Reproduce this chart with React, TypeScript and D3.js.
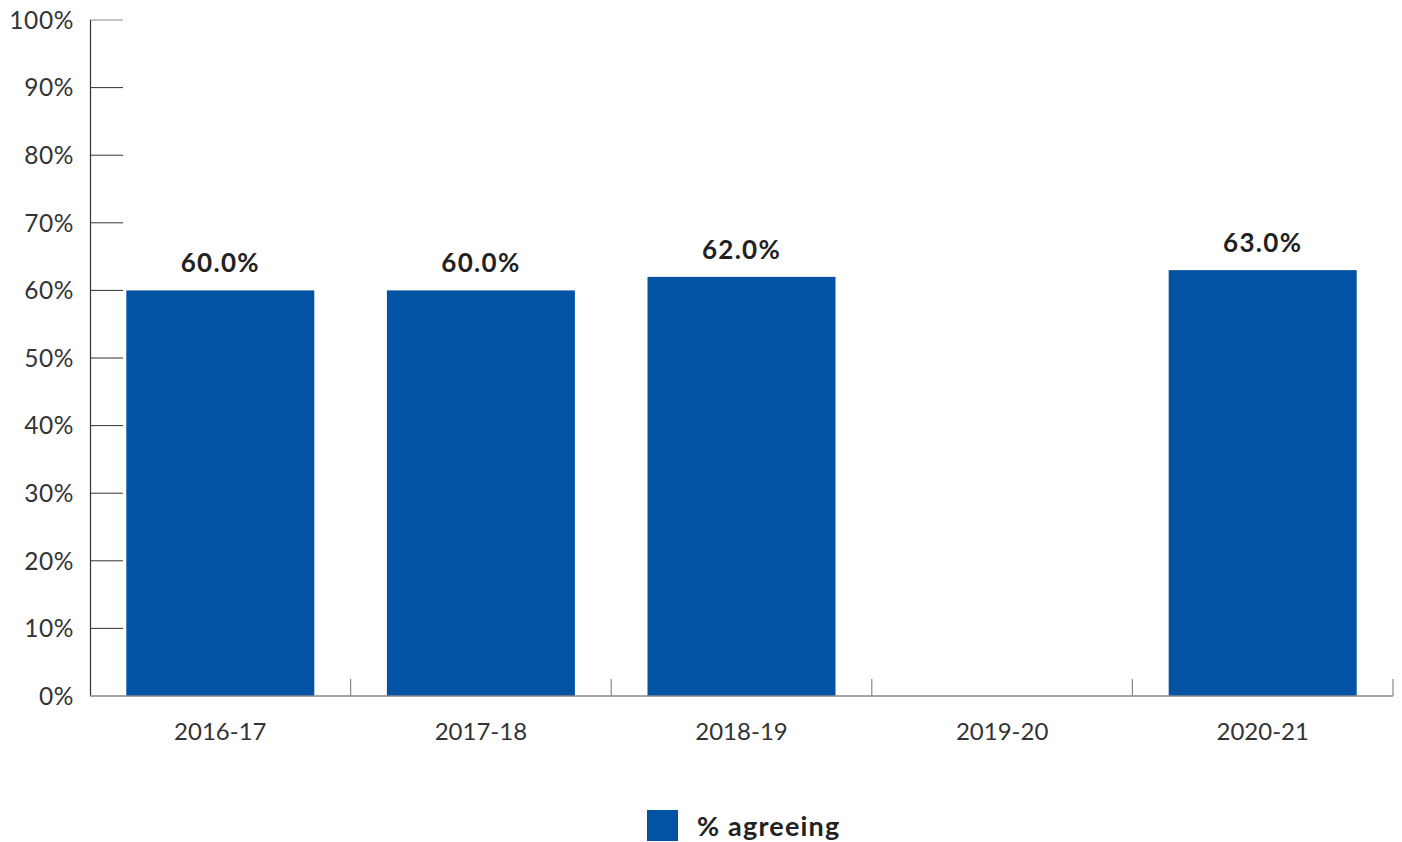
import React from "react";
import * as d3 from "d3";

const categories = ["2016-17", "2017-18", "2018-19", "2019-20", "2020-21"];
const values: (number | null)[] = [60, 60, 62, null, 63];
const yTicks = [0, 10, 20, 30, 40, 50, 60, 70, 80, 90, 100];
const seriesName = "% agreeing";

const W = 1402;
const H = 842;
const FONT = "Lato, 'Open Sans', sans-serif";
const BAR = "#0353a4";

export default function App() {
  const x = d3
    .scaleBand<string>()
    .domain(categories)
    .range([90, 1393])
    .paddingInner(0.2786)
    .paddingOuter(0.1393);
  const y = d3.scaleLinear().domain([0, 100]).range([696, 20]);
  const step = x.step();
  const boundaries = categories.map((_, i) => 90 + step * (i + 1));

  return (
    <div style={{ position: "absolute", left: 0, top: 0 }}>
      <svg width={W} height={H} style={{ display: "block", background: "#fff" }}>
        {/* y ticks */}
        {yTicks.map((t) => (
          <g key={t}>
            {t > 0 && (
              <line
                x1={90}
                x2={123}
                y1={y(t)}
                y2={y(t)}
                stroke={t === 100 ? "#888" : "#333"}
                strokeWidth={1}
              />
            )}
            <text
              x={74}
              y={y(t)}
              dy="0.36em"
              textAnchor="end"
              fontFamily={FONT}
              fontSize={24.5}
              letterSpacing={0.6}
              fill="#333"
            >
              {t}%
            </text>
          </g>
        ))}
        {/* bars */}
        {categories.map((c, i) => {
          const v = values[i];
          if (v == null) return null;
          return (
            <g key={c}>
              <rect
                x={x(c)}
                y={y(v)}
                width={x.bandwidth()}
                height={y(0) - y(v)}
                fill={BAR}
              />
              <text
                x={(x(c) as number) + x.bandwidth() / 2}
                y={y(v) - 18}
                textAnchor="middle"
                fontFamily={FONT}
                fontWeight={700}
                fontSize={26}
                letterSpacing={1.3}
                fill="#222"
              >
                {v.toFixed(1)}%
              </text>
            </g>
          );
        })}
        {/* y axis */}
        <line x1={90.5} x2={90.5} y1={20} y2={696} stroke="#333" strokeWidth={1.2} />
        {/* x axis */}
        <line x1={90} x2={1393} y1={696} y2={696} stroke="#888" strokeWidth={1.5} />
        {boundaries.map((b, i) => (
          <line key={i} x1={b} x2={b} y1={679} y2={696} stroke="#888" strokeWidth={1.2} />
        ))}
        {categories.map((c) => (
          <text
            key={c}
            x={(x(c) as number) + x.bandwidth() / 2}
            y={740}
            textAnchor="middle"
            fontFamily={FONT}
            fontSize={24}
            fill="#333"
          >
            {c}
          </text>
        ))}
        {/* legend */}
        <rect x={647} y={810} width={31} height={31} fill={BAR} />
        <text
          x={697}
          y={836}
          fontFamily={FONT}
          fontWeight={700}
          fontSize={27}
          letterSpacing={1.2}
          fill="#222"
        >
          {seriesName}
        </text>
      </svg>
    </div>
  );
}
